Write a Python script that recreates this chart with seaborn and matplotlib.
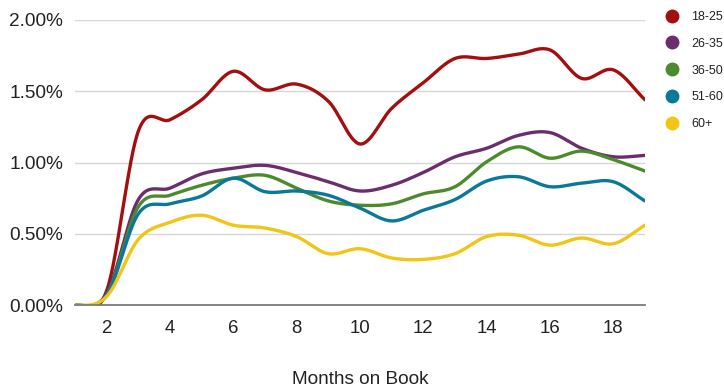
import numpy as np
import pandas as pd
import matplotlib
matplotlib.use("Agg")
import matplotlib.pyplot as plt
from matplotlib.lines import Line2D
from matplotlib.ticker import PercentFormatter
import seaborn as sns

# Months on book and delinquency rate (%) per age group
months = list(range(1, 20))
age_groups = ["18-25", "26-35", "36-50", "51-60", "60+"]
rate_18_25 = [0.00, 0.10, 1.22, 1.30, 1.44, 1.64, 1.51, 1.55, 1.43, 1.13,
              1.38, 1.56, 1.73, 1.73, 1.76, 1.79, 1.59, 1.65, 1.44]
rate_26_35 = [0.00, 0.08, 0.74, 0.82, 0.92, 0.96, 0.98, 0.93, 0.865, 0.80,
              0.84, 0.93, 1.04, 1.10, 1.19, 1.21, 1.10, 1.04, 1.05]
rate_36_50 = [0.00, 0.07, 0.69, 0.77, 0.84, 0.89, 0.91, 0.82, 0.73, 0.70,
              0.71, 0.78, 0.83, 1.005, 1.11, 1.03, 1.08, 1.02, 0.94]
rate_51_60 = [0.00, 0.07, 0.64, 0.71, 0.765, 0.89, 0.795, 0.80, 0.77, 0.68,
              0.59, 0.665, 0.74, 0.87, 0.90, 0.83, 0.855, 0.865, 0.73]
rate_60_plus = [0.00, 0.06, 0.46, 0.58, 0.63, 0.56, 0.54, 0.48, 0.36, 0.395,
                0.33, 0.32, 0.36, 0.48, 0.49, 0.42, 0.47, 0.43, 0.56]
series = [rate_18_25, rate_26_35, rate_36_50, rate_51_60, rate_60_plus]
colors = ["#a30f0f", "#6b2d6e", "#4b8b2e", "#0a7898", "#f2c416"]


def smooth(x, y, steps=30):
    """Catmull-Rom curve through every point."""
    x = np.asarray(x, float)
    y = np.asarray(y, float)
    n = len(y)
    m = np.zeros(n)
    m[1:-1] = (y[2:] - y[:-2]) / (x[2:] - x[:-2])
    m[-1] = (y[-1] - y[-2]) / (x[-1] - x[-2])
    m[0] = 0.0
    xs, ys = [], []
    for i in range(n - 1):
        h = x[i + 1] - x[i]
        t = np.linspace(0, 1, steps, endpoint=(i == n - 2))
        h00 = 2 * t**3 - 3 * t**2 + 1
        h10 = t**3 - 2 * t**2 + t
        h01 = -2 * t**3 + 3 * t**2
        h11 = t**3 - t**2
        xs.append(x[i] + t * h)
        ys.append(h00 * y[i] + h10 * h * m[i] + h01 * y[i + 1] + h11 * h * m[i + 1])
    return np.concatenate(xs), np.concatenate(ys)


frames = []
for name, vals in zip(age_groups, series):
    xs, ys = smooth(months, vals)
    frames.append(pd.DataFrame({"month": xs, "rate": ys, "group": name}))
df = pd.concat(frames, ignore_index=True)

sns.set_theme(style="white")
plt.rcParams["font.family"] = ["Liberation Sans", "DejaVu Sans"]

fig = plt.figure(figsize=(7.24, 3.89), dpi=100)
ax = fig.add_axes([75 / 724, 1 - 305 / 389, 570 / 724, 285 / 389])

sns.lineplot(data=df, x="month", y="rate", hue="group", hue_order=age_groups,
             palette=colors, linewidth=2.4, legend=False, ax=ax, sort=False,
             estimator=None)

ax.set_xlim(1, 19)
ax.set_ylim(0, 2.0)
ax.set_xticks(range(2, 19, 2))
ax.set_yticks([0, 0.5, 1.0, 1.5, 2.0])
ax.yaxis.set_major_formatter(PercentFormatter(xmax=100, decimals=2))
ax.grid(axis="y", color="#d6d6d6", linewidth=1)
ax.grid(axis="x", visible=False)
ax.set_axisbelow(True)
for side in ["top", "right", "left"]:
    ax.spines[side].set_visible(False)
ax.spines["bottom"].set_color("#7a7a7a")
ax.spines["bottom"].set_linewidth(1.3)
ax.spines["bottom"].set_zorder(5)
ax.tick_params(axis="x", length=0, pad=11, labelsize=13.4, labelcolor="#222222")
ax.tick_params(axis="y", length=0, pad=8.5, labelsize=13.7, labelcolor="#222222")
ax.set_ylabel("")
ax.set_xlabel("Months on Book", fontsize=13.7, color="#222222", labelpad=24.5)

handles = [Line2D([0], [0], marker="o", linestyle="none", markersize=9,
                  markerfacecolor=c, markeredgecolor=c) for c in colors]
fig.legend(handles, age_groups, loc="upper left", bbox_to_anchor=(659 / 724, 1 - 6 / 389),
           frameon=False, fontsize=9, handletextpad=1.0, labelspacing=1.18,
           handlelength=1.2, borderaxespad=0, labelcolor="#222222")

fig.savefig("out.png", dpi=100)
